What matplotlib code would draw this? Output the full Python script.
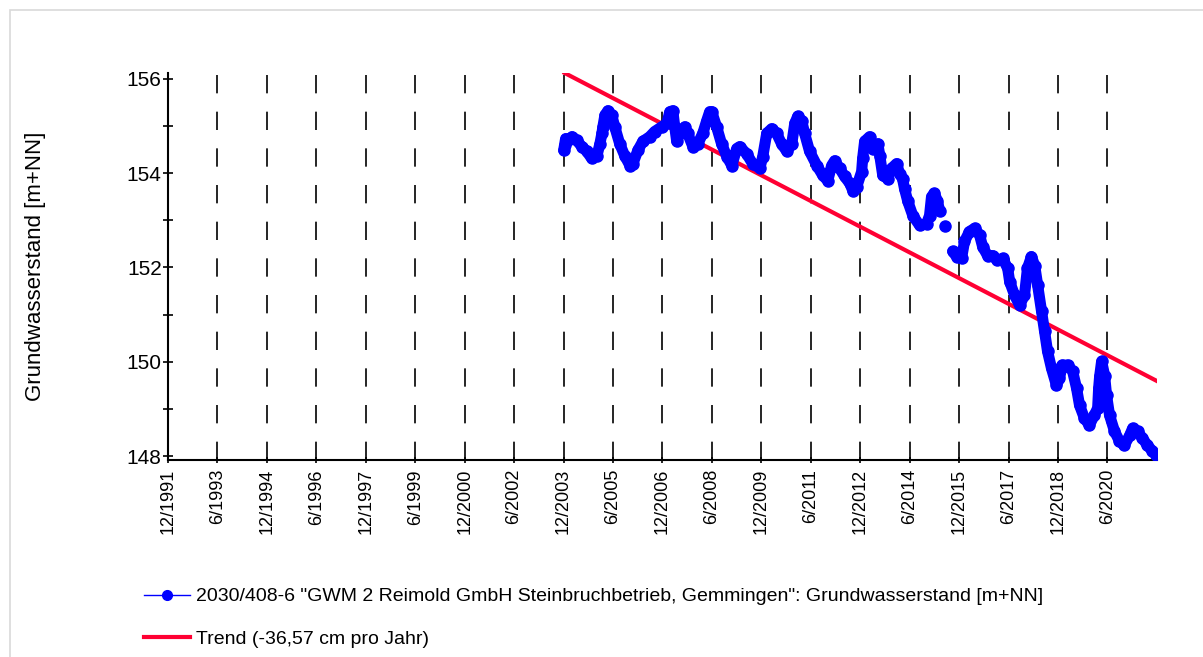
import numpy as np
import matplotlib
matplotlib.use('Agg')
import matplotlib.pyplot as plt
from matplotlib.patches import Rectangle
from matplotlib.lines import Line2D

plt.rcParams['font.family'] = ['Liberation Sans', 'DejaVu Sans']

# Messwerte (Jahr als Dezimalzahl, Grundwasserstand in m+NN), nan = Luecke
jahr = [2003.92, 2003.95, 2003.98, 2004.05, 2004.17, 2004.32, 2004.47, 2004.62, 2004.77, 2004.93,
        2005.02, 2005.08, 2005.11, 2005.17, 2005.26, 2005.38, 2005.47, 2005.62, 2005.77, 2005.93,
        2006.02, 2006.17, 2006.32, 2006.53, 2006.68, 2006.90, 2007.05, 2007.14, 2007.23, 2007.29,
        2007.35, 2007.44, 2007.59, 2007.68, 2007.84, 2007.99, 2008.14, 2008.26, 2008.35, 2008.41,
        2008.56, 2008.71, 2008.87, 2009.02, 2009.17, 2009.26, 2009.47, 2009.65, 2009.87, 2009.96,
        2010.08, 2010.23, 2010.38, 2010.53, 2010.69, 2010.84, 2010.93, 2011.02, 2011.14, 2011.23,
        2011.38, 2011.60, 2011.78, 2011.93, 2012.05, 2012.14, 2012.29, 2012.44, 2012.60, 2012.69,
        2012.81, 2012.96, 2012.99, 2013.05, 2013.20, 2013.29, 2013.45, 2013.51, 2013.60, 2013.75,
        2013.87, 2014.02, 2014.11, 2014.20, 2014.26, 2014.36, 2014.51, 2014.72, 2014.93, 2015.02,
        2015.08, 2015.17, 2015.26, 2015.33, 2015.40, 2015.48, 2015.60, 2015.72, 2015.84, 2015.99,
        2016.08, 2016.23, 2016.39, 2016.54, 2016.63, 2016.78, 2016.93, 2017.08, 2017.24, 2017.39,
        2017.45, 2017.60, 2017.75, 2017.90, 2017.99, 2018.11, 2018.21, 2018.30, 2018.42, 2018.51,
        2018.60, 2018.72, 2018.87, 2018.96, 2019.05, 2019.21, 2019.36, 2019.48, 2019.57, 2019.72,
        2019.87, 2020.02, 2020.12, 2020.15, 2020.18, 2020.24, 2020.33, 2020.39, 2020.48, 2020.63,
        2020.78, 2020.93, 2021.09, 2021.18, 2021.33, 2021.48, 2021.63, 2021.78, 2021.90]
stand = [154.48, 154.60, 154.73, 154.69, 154.77, 154.69, 154.56, 154.46, 154.31, 154.37,
         154.62, 154.84, 154.98, 155.22, 155.32, 155.22, 154.98, 154.62, 154.37, 154.16,
         154.20, 154.48, 154.67, 154.77, 154.88, 154.98, 155.05, 155.30, 155.32, 154.98,
         154.67, 154.84, 154.98, 154.84, 154.56, 154.62, 154.84, 155.11, 155.30, 155.30,
         154.98, 154.62, 154.35, 154.16, 154.52, 154.56, 154.41, 154.20, 154.10, 154.35,
         154.84, 154.94, 154.84, 154.62, 154.46, 154.62, 155.05, 155.20, 155.11, 154.84,
         154.46, 154.16, 153.95, 153.84, 154.16, 154.26, 154.10, 153.93, 153.78, 153.63,
         153.71, 154.03, 154.31, 154.67, 154.77, 154.52, 154.62, 154.37, 153.95, 153.88,
         154.10, 154.20, 153.99, 153.88, 153.67, 153.40, 153.10, 152.89, 152.93, 153.10,
         153.50, 153.57, 153.40, 153.19, np.nan, 152.87, np.nan, 152.34, 152.23, 152.19,
         152.55, 152.76, 152.83, 152.68, 152.44, 152.25, 152.25, 152.15, 152.19, 151.98,
         151.70, 151.41, 151.20, 151.41, 151.98, 152.23, 152.04, 151.62, 151.07, 150.65,
         150.22, 149.86, 149.50, 149.65, 149.93, 149.93, 149.80, 149.44, 149.08, 148.80,
         148.66, 148.87, 149.02, 149.44, 149.69, 150.01, 149.71, 149.29, 148.87, 148.53,
         148.32, 148.23, 148.44, 148.59, 148.53, 148.38, 148.23, 148.11, 148.02]

trend_jahr = [2003.95, 2021.90]
trend_stand = [156.12, 149.60]

xlabels = ['12/1991', '6/1993', '12/1994', '6/1996', '12/1997', '6/1999', '12/2000',
           '6/2002', '12/2003', '6/2005', '12/2006', '6/2008', '12/2009', '6/2011',
           '12/2012', '6/2014', '12/2015', '6/2017', '12/2018', '6/2020']
xpos = [int(s.split('/')[1]) + (int(s.split('/')[0]) - 1) / 12 for s in xlabels]

label_mess = '2030/408-6 "GWM 2 Reimold GmbH Steinbruchbetrieb, Gemmingen": Grundwasserstand [m+NN]'
label_trend = 'Trend (-36,57 cm pro Jahr)'

blau = '#0000ff'
rot = '#ff0033'

fig = plt.figure(figsize=(12.03, 6.57), dpi=100)
fig.patches.append(Rectangle((10/1203, -0.1), 1.2, (647/657) + 0.1, transform=fig.transFigure,
                             fill=False, edgecolor='#d9d9d9', linewidth=1.2))
ax = fig.add_axes([168/1203, 197/657, 989/1203, 387/657])

for p in xpos:
    ax.axvline(p, color='black', linewidth=1.2, linestyle=(0, (11, 11)), zorder=1)

ax.plot(trend_jahr, trend_stand, color=rot, linewidth=3, zorder=2)
ax.plot(jahr, stand, color=blau, linewidth=8, solid_capstyle='round', zorder=3)
ax.plot(jahr, stand, color=blau, linewidth=1, marker='o', markersize=8, zorder=4)

ax.set_xlim(xpos[0], 2021.92)
ax.set_ylim(147.92, 156.12)
ax.set_xticks(xpos)
ax.set_xticklabels(xlabels, rotation=90, fontsize=13)
ax.set_yticks([148, 150, 152, 154, 156])
ax.set_yticks([149, 151, 153, 155], minor=True)
ax.tick_params(axis='y', which='both', direction='inout', length=7, width=1.2, labelsize=15, pad=1)
ax.tick_params(axis='x', direction='inout', length=5, width=1.2, pad=4)
for s in ['top', 'right']:
    ax.spines[s].set_visible(False)
for s in ['left', 'bottom']:
    ax.spines[s].set_linewidth(1.5)
ax.set_ylabel('Grundwasserstand [m+NN]', fontsize=16)
ax.yaxis.set_label_coords(-122/989, 0.5)

handles = [Line2D([], [], color=blau, linewidth=1, marker='o', markersize=7),
           Line2D([], [], color=rot, linewidth=3)]
fig.legend(handles, [label_mess, label_trend], loc='upper left', bbox_to_anchor=(136/1203, 1 - 580/657),
           frameon=False, fontsize=14, handlelength=2.4, handletextpad=0.3, labelspacing=1.3,
           borderaxespad=0)

fig.savefig('out.png', dpi=100)
